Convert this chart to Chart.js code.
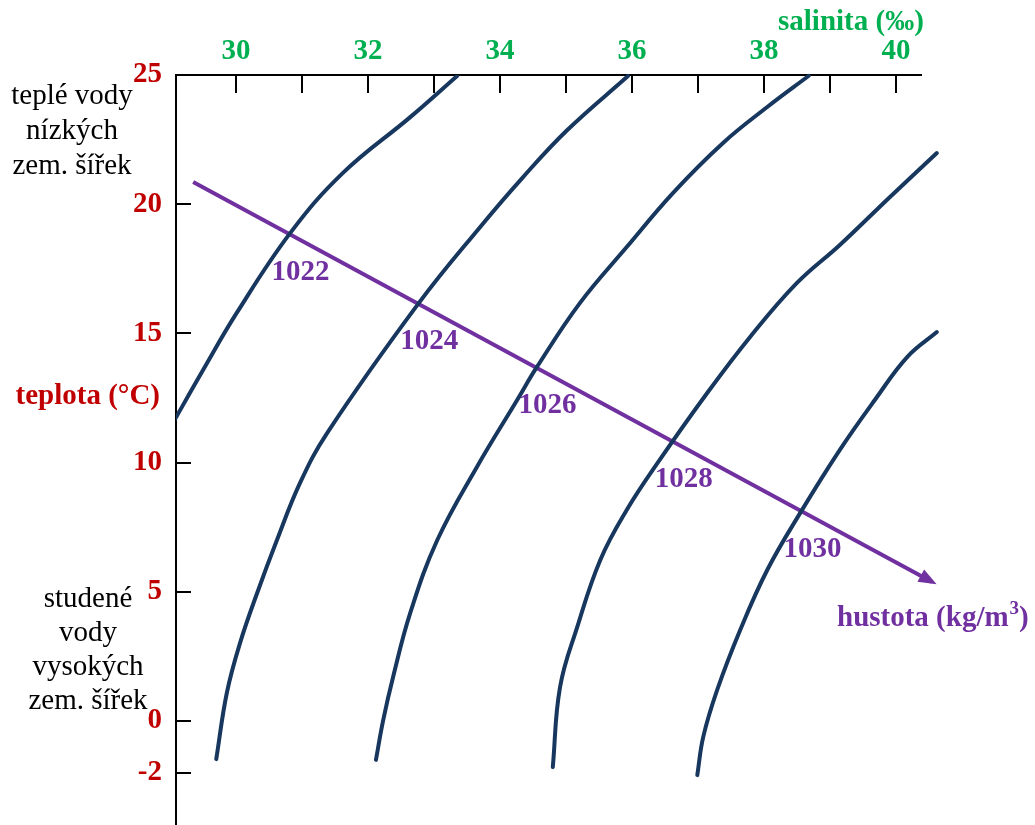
<!DOCTYPE html>
<html lang="cs">
<head>
<meta charset="utf-8">
<title>Hustota mořské vody – teplota a salinita</title>
<script src="https://cdn.jsdelivr.net/npm/chart.js@4/dist/chart.umd.min.js"></script>
<style>
  html, body { margin: 0; padding: 0; background: #ffffff; }
  #wrap { width: 1035px; height: 825px; }
</style>
</head>
<body>
<div id="wrap"><canvas id="c" width="1035" height="825"></canvas></div>
<script>
// Axis ticks
const salinityTicks = [30, 31, 32, 33, 34, 35, 36, 37, 38, 39, 40];
const temperatureTicks = [25, 20, 15, 10, 5, 0, -2];

// Isopycnal names (density, kg/m3)
const densityNames = ['1022', '1024', '1026', '1028', '1030'];

// Isopycnals: salinity (‰) and temperature (°C) pairs
const sal1022  = [29.00, 29.50, 30.01, 30.82, 31.62, 32.64, 33.35];
const temp1022 = [11.34, 13.58, 15.79, 18.88, 21.21, 23.37, 24.96];

const sal1024  = [29.70, 29.86, 30.06, 30.32, 30.62, 30.97, 31.38, 32.76, 33.70, 34.35, 35.02, 35.94];
const temp1024 = [-1.48, 1.08, 3.01, 4.95, 7.00, 9.21, 11.14, 16.14, 19.12, 21.05, 22.87, 24.96];

const sal1026  = [32.12, 32.23, 32.38, 32.64, 33.05, 33.65, 34.26, 34.56, 35.21, 35.92, 36.62, 37.38, 38.05, 38.68];
const temp1026 = [-1.51, 0.03, 1.70, 4.18, 7.00, 9.83, 12.42, 13.70, 16.17, 18.34, 20.43, 22.37, 23.76, 24.97];

const sal1028  = [34.80, 34.91, 35.17, 35.52, 35.92, 36.42, 37.14, 37.79, 38.50, 39.15, 39.91, 40.62];
const temp1028 = [-1.79, 1.31, 3.63, 6.23, 8.16, 10.10, 12.69, 14.86, 16.95, 18.42, 20.28, 21.98];

const sal1030  = [36.99, 37.08, 37.29, 37.64, 38.05, 38.55, 39.15, 39.68, 40.17, 40.62];
const temp1030 = [-2.10, -0.62, 1.19, 3.52, 5.84, 8.05, 10.49, 12.42, 14.08, 15.05];

// Direction of increasing density (arrow)
const densityAxisSal  = [29.35, 40.55];
const densityAxisTemp = [20.86, 5.38];

// ---- styling ----
const SERIF = '"Liberation Serif", "Times New Roman", Times, serif';
const GREEN = '#00B050';
const RED = '#C00000';
const PURPLE = '#7030A0';
const NAVY = '#17375E';

const toPoints = (xs, ys) => xs.map((x, i) => ({ x: x, y: ys[i] }));

const isoSets = [
  [sal1022, temp1022],
  [sal1024, temp1024],
  [sal1026, temp1026],
  [sal1028, temp1028],
  [sal1030, temp1030]
];

const datasets = isoSets.map((pair, i) => ({
  label: densityNames[i],
  data: toPoints(pair[0], pair[1]),
  showLine: true,
  borderColor: NAVY,
  borderWidth: 4,
  borderCapStyle: 'round',
  borderJoinStyle: 'round',
  tension: 0.4,
  pointRadius: 0,
  clip: i === 0 ? 0 : false
}));

datasets.push({
  label: 'hustota',
  data: toPoints(densityAxisSal, densityAxisTemp),
  showLine: true,
  borderColor: PURPLE,
  borderWidth: 4,
  borderCapStyle: 'butt',
  tension: 0,
  pointRadius: 0,
  clip: false
});

function segIntersect(a, b, c, d) {
  const r = { x: b.x - a.x, y: b.y - a.y };
  const s = { x: d.x - c.x, y: d.y - c.y };
  const den = r.x * s.y - r.y * s.x;
  if (Math.abs(den) < 1e-9) return null;
  const t = ((c.x - a.x) * s.y - (c.y - a.y) * s.x) / den;
  const u = ((c.x - a.x) * r.y - (c.y - a.y) * r.x) / den;
  if (t < 0 || t > 1 || u < 0 || u > 1) return null;
  return { x: a.x + t * r.x, y: a.y + t * r.y };
}

const overlay = {
  id: 'overlay',
  afterDatasetsDraw(chart) {
    const ctx = chart.ctx;
    const xs = chart.scales.x, ys = chart.scales.y;
    const area = chart.chartArea;
    ctx.save();

    // inward tick marks
    ctx.strokeStyle = '#000';
    ctx.lineWidth = 2;
    ctx.lineCap = 'butt';
    salinityTicks.forEach(v => {
      const px = Math.round(xs.getPixelForValue(v));
      ctx.beginPath(); ctx.moveTo(px, area.top); ctx.lineTo(px, area.top + 18); ctx.stroke();
    });
    temperatureTicks.forEach(v => {
      const py = Math.round(ys.getPixelForValue(v));
      ctx.beginPath(); ctx.moveTo(area.left, py); ctx.lineTo(area.left + 15, py); ctx.stroke();
    });

    // arrowhead on the density direction line
    const arrowMeta = chart.getDatasetMeta(isoSets.length);
    const p0 = arrowMeta.data[0], p1 = arrowMeta.data[1];
    const len = Math.hypot(p1.x - p0.x, p1.y - p0.y);
    const ux = (p1.x - p0.x) / len, uy = (p1.y - p0.y) / len;
    const tip = { x: p1.x + ux * 5, y: p1.y + uy * 5 };
    const base = { x: tip.x - ux * 18, y: tip.y - uy * 18 };
    ctx.fillStyle = PURPLE;
    ctx.beginPath();
    ctx.moveTo(tip.x, tip.y);
    ctx.lineTo(base.x - uy * 7, base.y + ux * 7);
    ctx.lineTo(base.x + uy * 7, base.y - ux * 7);
    ctx.closePath();
    ctx.fill();

    // density labels next to the crossings with the arrow line
    ctx.font = 'bold 29px ' + SERIF;
    ctx.textAlign = 'center';
    ctx.textBaseline = 'middle';
    for (let i = 0; i < isoSets.length; i++) {
      const pts = chart.getDatasetMeta(i).data;
      for (let k = 0; k < pts.length - 1; k++) {
        const hit = segIntersect(p0, p1, pts[k], pts[k + 1]);
        if (hit) {
          ctx.fillText(densityNames[i], hit.x + 11, hit.y + 38);
          break;
        }
      }
    }

    // axis titles
    ctx.textBaseline = 'alphabetic';
    ctx.fillStyle = GREEN;
    ctx.textAlign = 'left';
    ctx.fillText('salinita (‰)', 778, 30);

    ctx.fillStyle = RED;
    ctx.textAlign = 'right';
    ctx.fillText('teplota (°C)', 160, 404);

    // density axis title with superscript
    ctx.fillStyle = PURPLE;
    ctx.textAlign = 'left';
    let x = 837;
    const main1 = 'hustota (kg/m';
    ctx.fillText(main1, x, 626);
    x += ctx.measureText(main1).width;
    ctx.font = 'bold 19px ' + SERIF;
    ctx.fillText('3', x + 1, 614);
    x += ctx.measureText('3').width + 1;
    ctx.font = 'bold 29px ' + SERIF;
    ctx.fillText(')', x, 626);

    // water mass notes
    ctx.fillStyle = '#000';
    ctx.font = '29px ' + SERIF;
    ctx.textAlign = 'center';
    ['teplé vody', 'nízkých', 'zem. šířek'].forEach((t, i) => ctx.fillText(t, 72, 104 + i * 35));
    ['studené', 'vody', 'vysokých', 'zem. šířek'].forEach((t, i) => ctx.fillText(t, 88, 607 + i * 34));

    ctx.restore();
  }
};

const tickFont = { family: SERIF, size: 29, weight: 'bold' };

new Chart(document.getElementById('c').getContext('2d'), {
  type: 'scatter',
  data: { datasets: datasets },
  options: {
    responsive: false,
    animation: false,
    devicePixelRatio: 1,
    layout: { padding: { left: 0, top: 0, right: 114, bottom: 0 } },
    plugins: { legend: { display: false }, tooltip: { enabled: false } },
    elements: { point: { radius: 0 }, line: { capBezierPoints: false } },
    scales: {
      x: {
        type: 'linear',
        position: 'top',
        min: 29.09,
        max: 40.38,
        grid: { display: false, drawTicks: false },
        border: { display: true, color: '#000', width: 2 },
        afterBuildTicks: s => { s.ticks = salinityTicks.map(v => ({ value: v })); },
        afterFit: s => { s.height = 75; s.paddingLeft = 0; s.paddingRight = 0; },
        ticks: {
          padding: 6,
          color: GREEN,
          font: tickFont,
          autoSkip: false,
          maxRotation: 0,
          callback: v => (v % 2 === 0 ? String(v) : '')
        }
      },
      y: {
        type: 'linear',
        position: 'left',
        min: -4.03,
        max: 25,
        grid: { display: false, drawTicks: false },
        border: { display: true, color: '#000', width: 2 },
        afterBuildTicks: s => { s.ticks = temperatureTicks.map(v => ({ value: v })); },
        afterFit: s => { s.width = 176; s.paddingTop = 0; s.paddingBottom = 0; },
        ticks: {
          padding: 14,
          color: RED,
          font: tickFont,
          autoSkip: false,
          callback: v => String(v)
        }
      }
    }
  },
  plugins: [overlay]
});
</script>
</body>
</html>
